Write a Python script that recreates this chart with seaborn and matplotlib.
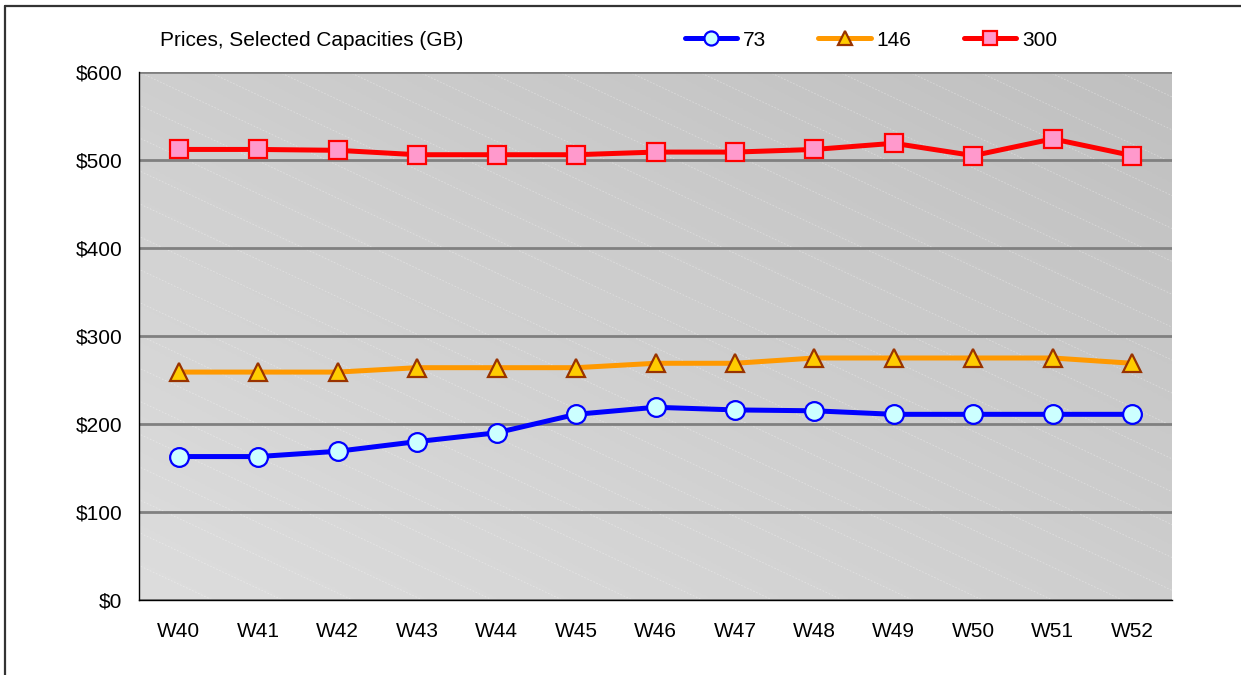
import numpy as np
import pandas as pd
import matplotlib
matplotlib.use("Agg")
import matplotlib.pyplot as plt
from matplotlib.lines import Line2D
from matplotlib.ticker import FuncFormatter
import seaborn as sns

# Prices per week for selected capacities (GB)
weeks = ["W40", "W41", "W42", "W43", "W44", "W45", "W46",
         "W47", "W48", "W49", "W50", "W51", "W52"]
price_73 = [163, 163, 169, 180, 190, 211, 219, 216, 215, 211, 211, 211, 211]
price_146 = [259, 259, 259, 264, 264, 264, 269, 269, 275, 275, 275, 275, 269]
price_300 = [512, 512, 511, 506, 506, 506, 509, 509, 512, 519, 505, 524, 505]

sns.set_style("white")
plt.rcParams["font.family"] = ["Liberation Sans", "DejaVu Sans"]
plt.rcParams["text.color"] = "black"
plt.rcParams["xtick.color"] = "black"
plt.rcParams["ytick.color"] = "black"

df = pd.DataFrame({"week": weeks, "pos": range(len(weeks)),
                   "73": price_73, "146": price_146, "300": price_300})

W, H = 1241, 675
fig = plt.figure(figsize=(W / 100, H / 100), dpi=100)
L, R, T, B = 139, 1172, 72, 600
ax = fig.add_axes([L / W, 1 - B / H, (R - L) / W, (B - T) / H])

# gradient background
gx, gy = np.meshgrid(np.linspace(0, 1, 200), np.linspace(0, 1, 200))
grad = (gx + gy) / 2
ax.imshow(grad, extent=[0, 1, 0, 1], transform=ax.transAxes, origin="lower",
          cmap=matplotlib.colors.LinearSegmentedColormap.from_list("g", ["#dddddd", "#c0c0c0"]),
          aspect="auto", zorder=0)
# faint diagonal hatch lines
pw, ph = R - L, B - T
slope = 0.47
for x0 in np.arange(-1400, pw + 70, 70):
    x1 = x0 + ph / slope
    ax.plot([x0 / pw, x1 / pw], [1, 0], transform=ax.transAxes, color="white",
            lw=0.6, alpha=0.35, ls=(0, (2, 2)), zorder=0.5, clip_on=True)

styles = [
    ("73", "#0000ff", "o", "#ccffff", "#0000ff", 13.5),
    ("146", "#ff9900", "^", "#ffcc00", "#993300", 13.5),
    ("300", "#ff0000", "s", "#ff99cc", "#ff0000", 12.5),
]
for col, c, m, fc, ec, ms in styles:
    sns.lineplot(data=df, x="pos", y=col, ax=ax, color=c, lw=3.6, marker=m,
                 markersize=ms, markerfacecolor=fc, markeredgecolor=ec,
                 markeredgewidth=1.6, label=col, zorder=3, legend=False)

ax.set_xlim(-0.5, len(weeks) - 0.5)
ax.set_ylim(0, 600)
ax.set_yticks(range(0, 601, 100))
ax.yaxis.set_major_formatter(FuncFormatter(lambda v, p: f"${v:.0f}"))
ax.set_xticks(range(len(weeks)))
ax.set_xticklabels(weeks)
ax.set_xticks(np.arange(-0.5, len(weeks), 1), minor=True)
ax.tick_params(axis="x", which="major", length=0, pad=16, labelsize=15, labelcolor="black")
ax.tick_params(axis="x", which="minor", length=5, width=1, direction="out", color="black")
ax.tick_params(axis="y", length=5, width=1, direction="out", color="black",
               labelsize=15, pad=7, labelcolor="black")
ax.yaxis.grid(True, color="#808080", lw=2)
ax.set_axisbelow(False)
for gl in ax.get_ygridlines():
    gl.set_zorder(1)
ax.set_xlabel("")
ax.set_ylabel("")
for s in ["top", "right"]:
    ax.spines[s].set_visible(False)
for s in ["left", "bottom"]:
    ax.spines[s].set_color("black")
    ax.spines[s].set_linewidth(1)
    ax.spines[s].set_zorder(4)

fig.text(160 / W, 1 - 40 / H, "Prices, Selected Capacities (GB)", fontsize=15,
         va="center", ha="left", color="black")

handles, labels = ax.get_legend_handles_labels()
fig.legend(handles, labels, loc="center", bbox_to_anchor=(871 / W, 1 - 40 / H),
           ncol=3, frameon=False, fontsize=15, handlelength=2.5,
           handletextpad=0.3, columnspacing=2.5, markerscale=0.75, labelcolor="black")

# outer frame (top and left edges visible)
fig.add_artist(Line2D([5 / W, 1], [1 - 6 / H, 1 - 6 / H], transform=fig.transFigure,
                      color="#333333", lw=1.6))
fig.add_artist(Line2D([5 / W, 5 / W], [0, 1 - 6 / H], transform=fig.transFigure,
                      color="#333333", lw=1.6))

fig.savefig("out.png", dpi=100)
